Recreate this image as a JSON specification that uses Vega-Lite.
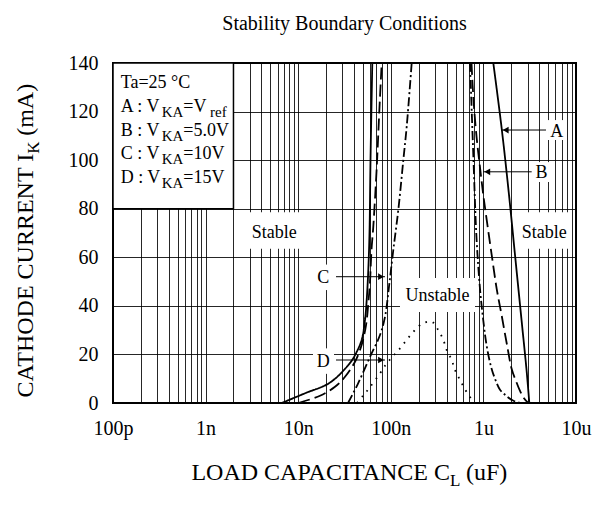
{
  "$schema": "https://vega.github.io/schema/vega-lite/v6.json",
  "width": 463,
  "height": 340,
  "autosize": {"type": "none"},
  "padding": {"left": 113, "top": 63, "right": 16, "bottom": 104},
  "background": "white",
  "title": {"text": "Stability Boundary Conditions", "fontSize": 20, "fontWeight": "normal", "color": "#000", "offset": 19, "anchor": "middle"},
  "config": {
    "font": "Liberation Serif",
    "view": {"stroke": "#000", "strokeWidth": 2}
  },
  "datasets": {
    "curves": [
      {"curve": "A", "seg": "A1", "i": 1, "c": 6.635e-9, "ma": 0},
      {"curve": "A", "seg": "A1", "i": 2, "c": 1.184e-8, "ma": 4},
      {"curve": "A", "seg": "A1", "i": 3, "c": 2.205e-8, "ma": 8.4},
      {"curve": "A", "seg": "A1", "i": 4, "c": 3.627e-8, "ma": 16.5},
      {"curve": "A", "seg": "A1", "i": 5, "c": 4.209e-8, "ma": 20.5},
      {"curve": "A", "seg": "A1", "i": 6, "c": 4.850e-8, "ma": 26},
      {"curve": "A", "seg": "A1", "i": 7, "c": 5.265e-8, "ma": 34.2},
      {"curve": "A", "seg": "A1", "i": 8, "c": 5.492e-8, "ma": 42.4},
      {"curve": "A", "seg": "A1", "i": 9, "c": 5.715e-8, "ma": 54.8},
      {"curve": "A", "seg": "A1", "i": 10, "c": 5.888e-8, "ma": 70},
      {"curve": "A", "seg": "A1", "i": 11, "c": 6.037e-8, "ma": 100},
      {"curve": "A", "seg": "A1", "i": 12, "c": 6.313e-8, "ma": 140},
      {"curve": "A", "seg": "A2", "i": 1, "c": 1.279e-6, "ma": 140},
      {"curve": "A", "seg": "A2", "i": 2, "c": 1.576e-6, "ma": 113},
      {"curve": "A", "seg": "A2", "i": 3, "c": 1.858e-6, "ma": 88.4},
      {"curve": "A", "seg": "A2", "i": 4, "c": 2.194e-6, "ma": 61},
      {"curve": "A", "seg": "A2", "i": 5, "c": 2.592e-6, "ma": 33.5},
      {"curve": "A", "seg": "A2", "i": 6, "c": 2.935e-6, "ma": 12.9},
      {"curve": "A", "seg": "A2", "i": 7, "c": 3.131e-6, "ma": 0},
      {"curve": "B", "seg": "B1", "i": 1, "c": 1.0025e-8, "ma": 0},
      {"curve": "B", "seg": "B1", "i": 2, "c": 1.720e-8, "ma": 3},
      {"curve": "B", "seg": "B1", "i": 3, "c": 2.497e-8, "ma": 6.7},
      {"curve": "B", "seg": "B1", "i": 4, "c": 3.202e-8, "ma": 10.8},
      {"curve": "B", "seg": "B1", "i": 5, "c": 4.106e-8, "ma": 17},
      {"curve": "B", "seg": "B1", "i": 6, "c": 4.850e-8, "ma": 24},
      {"curve": "B", "seg": "B1", "i": 7, "c": 5.397e-8, "ma": 32},
      {"curve": "B", "seg": "B1", "i": 8, "c": 5.744e-8, "ma": 42},
      {"curve": "B", "seg": "B1", "i": 9, "c": 5.963e-8, "ma": 50},
      {"curve": "B", "seg": "B1", "i": 10, "c": 6.188e-8, "ma": 63},
      {"curve": "B", "seg": "B1", "i": 11, "c": 6.471e-8, "ma": 72.6},
      {"curve": "B", "seg": "B1", "i": 12, "c": 7.043e-8, "ma": 96.8},
      {"curve": "B", "seg": "B1", "i": 13, "c": 7.512e-8, "ma": 120},
      {"curve": "B", "seg": "B1", "i": 14, "c": 7.975e-8, "ma": 140},
      {"curve": "B", "seg": "B2", "i": 1, "c": 7.437e-7, "ma": 140},
      {"curve": "B", "seg": "B2", "i": 2, "c": 7.817e-7, "ma": 125},
      {"curve": "B", "seg": "B2", "i": 3, "c": 8.465e-7, "ma": 109},
      {"curve": "B", "seg": "B2", "i": 4, "c": 9.190e-7, "ma": 97},
      {"curve": "B", "seg": "B2", "i": 5, "c": 9.975e-7, "ma": 85.6},
      {"curve": "B", "seg": "B2", "i": 6, "c": 1.108e-6, "ma": 73},
      {"curve": "B", "seg": "B2", "i": 7, "c": 1.229e-6, "ma": 61},
      {"curve": "B", "seg": "B2", "i": 8, "c": 1.392e-6, "ma": 47},
      {"curve": "B", "seg": "B2", "i": 9, "c": 1.576e-6, "ma": 36},
      {"curve": "B", "seg": "B2", "i": 10, "c": 1.785e-6, "ma": 24.6},
      {"curve": "B", "seg": "B2", "i": 11, "c": 2.021e-6, "ma": 14},
      {"curve": "B", "seg": "B2", "i": 12, "c": 2.250e-6, "ma": 9},
      {"curve": "B", "seg": "B2", "i": 13, "c": 2.485e-6, "ma": 5},
      {"curve": "B", "seg": "B2", "i": 14, "c": 2.744e-6, "ma": 2},
      {"curve": "B", "seg": "B2", "i": 15, "c": 3.054e-6, "ma": 0},
      {"curve": "C", "seg": "C1", "i": 1, "c": 3.451e-8, "ma": 0},
      {"curve": "C", "seg": "C1", "i": 2, "c": 4.424e-8, "ma": 8},
      {"curve": "C", "seg": "C1", "i": 3, "c": 5.963e-8, "ma": 19},
      {"curve": "C", "seg": "C1", "i": 4, "c": 7.645e-8, "ma": 28},
      {"curve": "C", "seg": "C1", "i": 5, "c": 8.657e-8, "ma": 35.5},
      {"curve": "C", "seg": "C1", "i": 6, "c": 9.634e-8, "ma": 49},
      {"curve": "C", "seg": "C1", "i": 7, "c": 1.064e-7, "ma": 63},
      {"curve": "C", "seg": "C1", "i": 8, "c": 1.205e-7, "ma": 79.5},
      {"curve": "C", "seg": "C1", "i": 9, "c": 1.365e-7, "ma": 100},
      {"curve": "C", "seg": "C1", "i": 10, "c": 1.485e-7, "ma": 113.8},
      {"curve": "C", "seg": "C1", "i": 11, "c": 1.681e-7, "ma": 140},
      {"curve": "C", "seg": "C2", "i": 1, "c": 7.166e-7, "ma": 140},
      {"curve": "C", "seg": "C2", "i": 2, "c": 7.817e-7, "ma": 100},
      {"curve": "C", "seg": "C2", "i": 3, "c": 8.424e-7, "ma": 68},
      {"curve": "C", "seg": "C2", "i": 4, "c": 9.190e-7, "ma": 47},
      {"curve": "C", "seg": "C2", "i": 5, "c": 9.901e-7, "ma": 35},
      {"curve": "C", "seg": "C2", "i": 6, "c": 1.080e-6, "ma": 24},
      {"curve": "C", "seg": "C2", "i": 7, "c": 1.208e-6, "ma": 15},
      {"curve": "C", "seg": "C2", "i": 8, "c": 1.334e-6, "ma": 10},
      {"curve": "C", "seg": "C2", "i": 9, "c": 1.511e-6, "ma": 5.5},
      {"curve": "C", "seg": "C2", "i": 10, "c": 1.785e-6, "ma": 2.8},
      {"curve": "C", "seg": "C2", "i": 11, "c": 2.088e-6, "ma": 1},
      {"curve": "C", "seg": "C2", "i": 12, "c": 2.485e-6, "ma": 0},
      {"curve": "D", "seg": "D1", "i": 1, "c": 4.315e-8, "ma": 0},
      {"curve": "D", "seg": "D1", "i": 2, "c": 5.010e-8, "ma": 3},
      {"curve": "D", "seg": "D1", "i": 3, "c": 5.815e-8, "ma": 6},
      {"curve": "D", "seg": "D1", "i": 4, "c": 7.645e-8, "ma": 12.2},
      {"curve": "D", "seg": "D1", "i": 5, "c": 9.030e-8, "ma": 16.3},
      {"curve": "D", "seg": "D1", "i": 6, "c": 1.064e-7, "ma": 19.4},
      {"curve": "D", "seg": "D1", "i": 7, "c": 1.257e-7, "ma": 22.5},
      {"curve": "D", "seg": "D1", "i": 8, "c": 1.485e-7, "ma": 26},
      {"curve": "D", "seg": "D1", "i": 9, "c": 1.780e-7, "ma": 29.6},
      {"curve": "D", "seg": "D1", "i": 10, "c": 2.157e-7, "ma": 32.5},
      {"curve": "D", "seg": "D1", "i": 11, "c": 2.765e-7, "ma": 33.5},
      {"curve": "D", "seg": "D1", "i": 12, "c": 3.258e-7, "ma": 30},
      {"curve": "D", "seg": "D1", "i": 13, "c": 3.690e-7, "ma": 26},
      {"curve": "D", "seg": "D1", "i": 14, "c": 4.015e-7, "ma": 21.8},
      {"curve": "D", "seg": "D1", "i": 15, "c": 4.547e-7, "ma": 17.7},
      {"curve": "D", "seg": "D1", "i": 16, "c": 4.935e-7, "ma": 13.6},
      {"curve": "D", "seg": "D1", "i": 17, "c": 5.588e-7, "ma": 9.5},
      {"curve": "D", "seg": "D1", "i": 18, "c": 6.328e-7, "ma": 5.6},
      {"curve": "D", "seg": "D1", "i": 19, "c": 7.293e-7, "ma": 1.9},
      {"curve": "D", "seg": "D1", "i": 20, "c": 7.532e-7, "ma": 0}
    ],
    "boxes": [
      {"c1": 2.87e-9, "c2": 1.03e-8, "m1": 63.5, "m2": 78.5},
      {"c1": 2.364e-6, "c2": 8.614e-6, "m1": 63.5, "m2": 78.5},
      {"c1": 1.257e-7, "c2": 8.115e-7, "m1": 37.5, "m2": 51.5},
      {"c1": 1.445e-8, "c2": 2.436e-8, "m1": 46.5, "m2": 57},
      {"c1": 1.445e-8, "c2": 2.436e-8, "m1": 12, "m2": 22.5},
      {"c1": 4.985e-6, "c2": 7.798e-6, "m1": 108.3, "m2": 116.5},
      {"c1": 3.348e-6, "c2": 5.37e-6, "m1": 91, "m2": 99.2}
    ],
    "legendbox": [
      {"c1": 1e-10, "c2": 2e-9, "m1": 80, "m2": 140}
    ],
    "arrows": [
      {"c1": 1.588e-6, "c2": 4.742e-6, "ma": 112.4},
      {"c1": 9.975e-7, "c2": 3.323e-6, "ma": 95.2},
      {"c1": 2.560e-8, "c2": 8.657e-8, "ma": 52.0},
      {"c1": 2.560e-8, "c2": 8.657e-8, "ma": 17.7}
    ],
    "heads": [
      {"c": 1.741e-6, "ma": 112.4, "dir": "left"},
      {"c": 1.102e-6, "ma": 95.2, "dir": "left"},
      {"c": 7.839e-8, "ma": 52.0, "dir": "right"},
      {"c": 7.839e-8, "ma": 17.7, "dir": "right"}
    ],
    "labels": [
      {"c": 5.506e-9, "ma": 67.9, "text": "Stable"},
      {"c": 4.536e-6, "ma": 67.9, "text": "Stable"},
      {"c": 3.194e-7, "ma": 42.0, "text": "Unstable"},
      {"c": 6.188e-6, "ma": 109.7, "text": "A"},
      {"c": 4.242e-6, "ma": 92.6, "text": "B"},
      {"c": 1.867e-8, "ma": 49.4, "text": "C"},
      {"c": 1.867e-8, "ma": 15.0, "text": "D"}
    ],
    "legendmain": [
      {"c": 1.211e-10, "ma": 129.58, "text": "Ta=25 °C"},
      {"c": 1.211e-10, "ma": 119.95, "text": "A : V"},
      {"c": 5.743e-10, "ma": 119.95, "text": "=V"},
      {"c": 1.211e-10, "ma": 109.94, "text": "B : V"},
      {"c": 5.743e-10, "ma": 109.94, "text": "=5.0V"},
      {"c": 1.211e-10, "ma": 100.35, "text": "C : V"},
      {"c": 5.743e-10, "ma": 100.35, "text": "=10V"},
      {"c": 1.211e-10, "ma": 90.71, "text": "D : V"},
      {"c": 5.743e-10, "ma": 90.71, "text": "=15V"}
    ],
    "legendsub": [
      {"c": 3.357e-10, "ma": 119.95, "text": "KA"},
      {"c": 1.115e-9, "ma": 119.95, "text": "ref"},
      {"c": 3.357e-10, "ma": 109.94, "text": "KA"},
      {"c": 3.357e-10, "ma": 100.35, "text": "KA"},
      {"c": 3.357e-10, "ma": 90.71, "text": "KA"}
    ],
    "xtitle": [
      {"c": 4.358e-7, "ma": -31.7, "pre": "LOAD CAPACITANCE  C", "sub": "L", "post": "(uF)"}
    ],
    "ytitle": [
      {"c": 1.385e-11, "ma": 102.6, "pre": "CATHODE CURRENT  I", "sub": "K", "post": "(mA)"}
    ]
  },
  "layer": [
    {
      "data": {"name": "boxes"},
      "mark": {"type": "rect", "fill": "white", "strokeWidth": 0},
      "encoding": {
        "x": {"field": "c1", "type": "quantitative",
          "scale": {"type": "log", "domain": [1e-10, 1e-5], "nice": false},
          "axis": {
            "title": null,
            "values": [1e-10, 2e-10, 3e-10, 4e-10, 5e-10, 6e-10, 7e-10, 8e-10, 9e-10,
                       1e-9, 2e-9, 3e-9, 4e-9, 5e-9, 6e-9, 7e-9, 8e-9, 9e-9,
                       1e-8, 2e-8, 3e-8, 4e-8, 5e-8, 6e-8, 7e-8, 8e-8, 9e-8,
                       1e-7, 2e-7, 3e-7, 4e-7, 5e-7, 6e-7, 7e-7, 8e-7, 9e-7,
                       1e-6, 2e-6, 3e-6, 4e-6, 5e-6, 6e-6, 7e-6, 8e-6, 9e-6, 1e-5],
            "grid": true, "gridColor": "#000", "gridOpacity": 0.85, "gridWidth": 1,
            "ticks": false, "domain": false,
            "labelExpr": "abs(log(datum.value)/LN10 - round(log(datum.value)/LN10)) > 0.01 ? '' : (round(log(datum.value)/LN10) == -10 ? '100p' : round(log(datum.value)/LN10) == -9 ? '1n' : round(log(datum.value)/LN10) == -8 ? '10n' : round(log(datum.value)/LN10) == -7 ? '100n' : round(log(datum.value)/LN10) == -6 ? '1u' : '10u')",
            "labelFontSize": 20, "labelColor": "#000", "labelPadding": 15,
            "labelOverlap": false, "labelFlush": false, "labelBound": false
          }
        },
        "x2": {"field": "c2"},
        "y": {"field": "m1", "type": "quantitative",
          "scale": {"domain": [0, 140], "nice": false, "zero": false},
          "axis": {
            "title": null,
            "values": [0, 20, 40, 60, 80, 100, 120, 140],
            "grid": true, "gridColor": "#000", "gridOpacity": 0.85, "gridWidth": 1,
            "ticks": false, "domain": false,
            "labelFontSize": 20, "labelColor": "#000", "labelPadding": 15
          }
        },
        "y2": {"field": "m2"}
      }
    },
    {
      "data": {"name": "legendbox"},
      "mark": {"type": "rect", "fill": "white", "stroke": "#000", "strokeWidth": 1.5},
      "encoding": {
        "x": {"field": "c1", "type": "quantitative"},
        "x2": {"field": "c2"},
        "y": {"field": "m1", "type": "quantitative"},
        "y2": {"field": "m2"}
      }
    },
    {
      "data": {"name": "curves"},
      "mark": {"type": "line", "color": "#000", "strokeWidth": 1.8, "interpolate": "catmull-rom", "clip": true},
      "encoding": {
        "x": {"field": "c", "type": "quantitative"},
        "y": {"field": "ma", "type": "quantitative"},
        "detail": {"field": "seg", "type": "nominal"},
        "order": {"field": "i", "type": "quantitative"},
        "strokeDash": {"field": "curve", "type": "nominal",
          "scale": {"domain": ["A", "B", "C", "D"], "range": [[1, 0], [12, 5], [9, 3, 2, 3], [1.6, 6]]},
          "legend": null}
      }
    },
    {
      "data": {"name": "arrows"},
      "mark": {"type": "rule", "color": "#000", "strokeWidth": 1},
      "encoding": {
        "x": {"field": "c1", "type": "quantitative"},
        "x2": {"field": "c2"},
        "y": {"field": "ma", "type": "quantitative"}
      }
    },
    {
      "data": {"name": "heads"},
      "mark": {"type": "point", "filled": true, "color": "#000", "opacity": 1, "size": 45},
      "encoding": {
        "x": {"field": "c", "type": "quantitative"},
        "y": {"field": "ma", "type": "quantitative"},
        "shape": {"field": "dir", "type": "nominal",
          "scale": {"domain": ["left", "right"], "range": ["triangle-left", "triangle-right"]},
          "legend": null}
      }
    },
    {
      "data": {"name": "labels"},
      "mark": {"type": "text", "fontSize": 18, "color": "#000", "align": "center", "baseline": "alphabetic"},
      "encoding": {
        "x": {"field": "c", "type": "quantitative"},
        "y": {"field": "ma", "type": "quantitative"},
        "text": {"field": "text"}
      }
    },
    {
      "data": {"name": "legendmain"},
      "mark": {"type": "text", "fontSize": 18, "color": "#000", "align": "left", "baseline": "alphabetic"},
      "encoding": {
        "x": {"field": "c", "type": "quantitative"},
        "y": {"field": "ma", "type": "quantitative"},
        "text": {"field": "text"}
      }
    },
    {
      "data": {"name": "legendsub"},
      "mark": {"type": "text", "fontSize": 15, "color": "#000", "align": "left", "baseline": "alphabetic", "dy": 5},
      "encoding": {
        "x": {"field": "c", "type": "quantitative"},
        "y": {"field": "ma", "type": "quantitative"},
        "text": {"field": "text"}
      }
    },
    {
      "data": {"name": "xtitle"},
      "mark": {"type": "text", "fontSize": 24, "color": "#000", "align": "right", "baseline": "alphabetic"},
      "encoding": {
        "x": {"field": "c", "type": "quantitative"},
        "y": {"field": "ma", "type": "quantitative"},
        "text": {"field": "pre"}
      }
    },
    {
      "data": {"name": "xtitle"},
      "mark": {"type": "text", "fontSize": 17, "color": "#000", "align": "left", "baseline": "alphabetic", "dy": 6},
      "encoding": {
        "x": {"field": "c", "type": "quantitative"},
        "y": {"field": "ma", "type": "quantitative"},
        "text": {"field": "sub"}
      }
    },
    {
      "data": {"name": "xtitle"},
      "mark": {"type": "text", "fontSize": 24, "color": "#000", "align": "left", "baseline": "alphabetic", "dx": 16},
      "encoding": {
        "x": {"field": "c", "type": "quantitative"},
        "y": {"field": "ma", "type": "quantitative"},
        "text": {"field": "post"}
      }
    },
    {
      "data": {"name": "ytitle"},
      "mark": {"type": "text", "fontSize": 24, "color": "#000", "align": "right", "baseline": "alphabetic", "angle": 270},
      "encoding": {
        "x": {"field": "c", "type": "quantitative"},
        "y": {"field": "ma", "type": "quantitative"},
        "text": {"field": "pre"}
      }
    },
    {
      "data": {"name": "ytitle"},
      "mark": {"type": "text", "fontSize": 17, "color": "#000", "align": "left", "baseline": "alphabetic", "angle": 270, "dy": 6},
      "encoding": {
        "x": {"field": "c", "type": "quantitative"},
        "y": {"field": "ma", "type": "quantitative"},
        "text": {"field": "sub"}
      }
    },
    {
      "data": {"name": "ytitle"},
      "mark": {"type": "text", "fontSize": 24, "color": "#000", "align": "left", "baseline": "alphabetic", "angle": 270, "dx": 18},
      "encoding": {
        "x": {"field": "c", "type": "quantitative"},
        "y": {"field": "ma", "type": "quantitative"},
        "text": {"field": "post"}
      }
    }
  ]
}
